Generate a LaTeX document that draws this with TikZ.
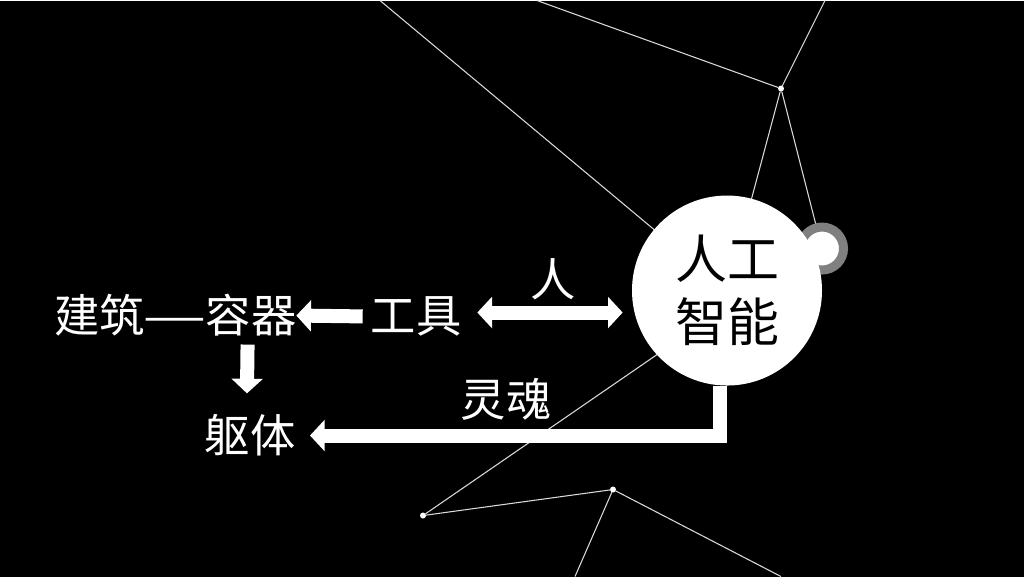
\documentclass[tikz,border=0pt]{standalone}
\usepackage{fontspec}
\setmainfont{Noto Sans CJK SC}
\usetikzlibrary{arrows.meta,positioning}
\tikzset{every node/.style={inner sep=0pt,outer sep=0pt,text=white}}
\tikzset{t/.style={font=\fontsize{34}{40}\selectfont}}
\tikzset{dot/.style={circle,fill=white,minimum size=4.5pt}}
\tikzset{net/.style={draw=white!85!black,line width=0.8pt}}
\tikzset{fat/.style={draw=white,line width=10.5pt}}
\tikzset{>={Triangle[length=11pt,width=23pt]}}

\begin{document}
\begin{tikzpicture}[x=0.75pt,y=-0.75pt]
  \fill[black] (0,0) rectangle (1024,576);
  % network in the background
  \coordinate (C) at (727,290);
  \coordinate (H) at (740,297);
  \coordinate (R) at (822,248);
  \coordinate (E1) at (380,0);
  \coordinate (E2) at (537,0);
  \coordinate (E3) at (825,0);
  \coordinate (E4) at (575,576);
  \coordinate (E5) at (781,576);
  \node[dot] (P1) at (781,88) {};
  \node[dot] (P2) at (423,515) {};
  \node[dot] (P3) at (613,489) {};
  \foreach \a/\b in {E1/C,E2/P1,E3/P1,P1/C,P1/R,P2/H,P2/P3,P3/E4,P3/E5}
    \draw[net] (\a) -- (\b);
  % ring and circle
  \node[circle,draw=black!50,line width=6.75pt,fill=white,minimum size=32.25pt] (ring) at (R) {};
  \node[circle,fill=white,minimum size=142.5pt,text=black,align=center,
        font=\fontsize{39}{47}\selectfont] (ai) at (C) {人工\\智能};
  % texts
  \node[t] (rongqi) at (251,315) {容器};
  \node[t,left=0pt of rongqi] (jianzhu) {建筑\scalebox{0.8}[1]{——}};
  \node[t] (gongju) at (416,316) {工具};
  \node[t] (quti) at (250,435) {躯体};
  \node[t] (ren) at (553,279) {人};
  \node[t] (linghun) at (506,399) {灵魂};
  % arrows
  \draw[fat,->,shorten <=6pt] (gongju.west) -- (rongqi.east);
  \draw[fat,<->,shorten <=12pt,shorten >=7pt] ([yshift=3]gongju.east) -- ([yshift=3]gongju.east -| ai.west);
  \draw[fat,->,shorten <=6pt,shorten >=16pt] ([xshift=-2.5]rongqi.south) -- ([xshift=-2.5]quti.north);
  \draw[fat,->,shorten >=11pt] ([xshift=-5]ai.south) |- (quti.east);
\end{tikzpicture}
\end{document}
